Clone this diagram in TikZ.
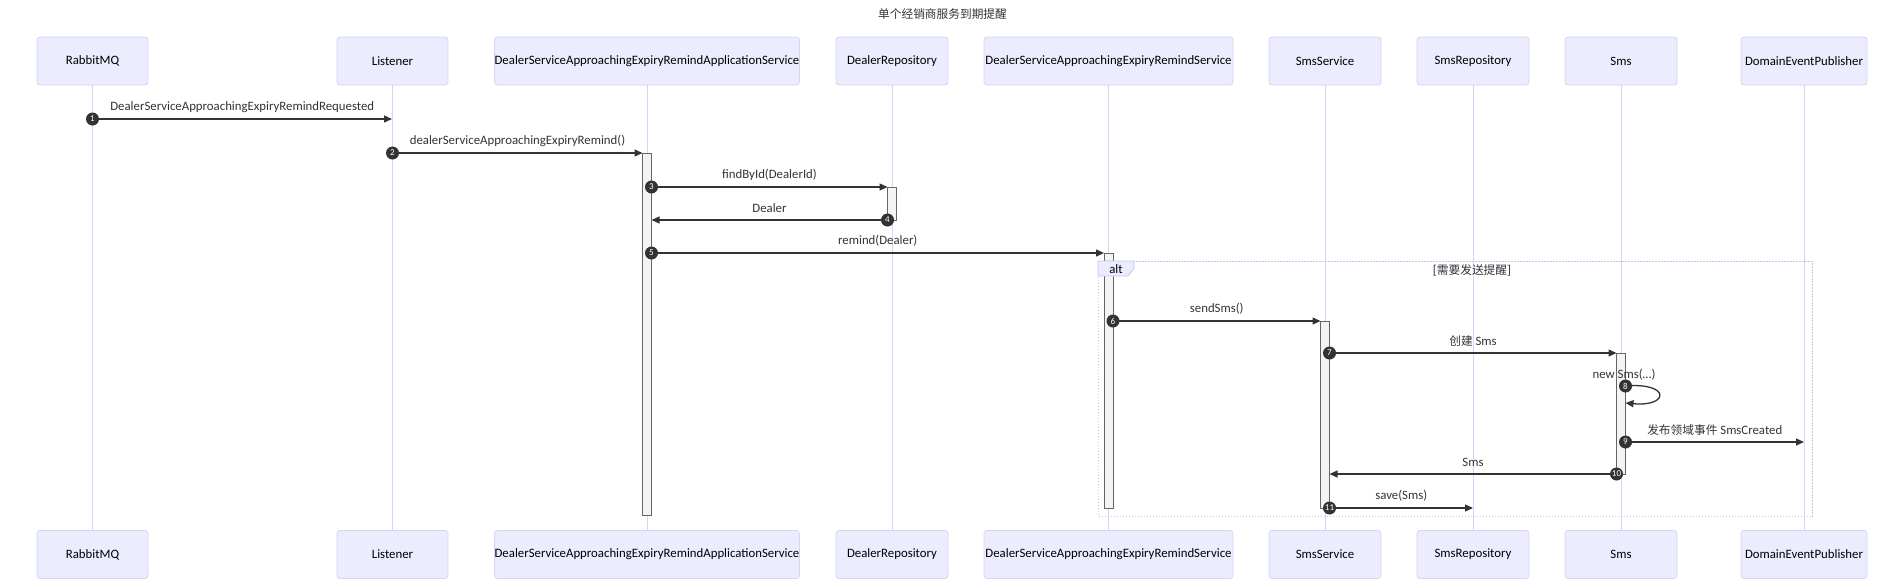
\documentclass[tikz,border=0pt]{standalone}
\usepackage{fontspec}
\setmainfont{Carlito}
\newfontfamily\cjk{Noto Sans CJK SC}
\usetikzlibrary{arrows.meta}
\definecolor{actorfill}{HTML}{ECECFF}
\definecolor{actorborder}{HTML}{D9D2F5}
\definecolor{lifecolor}{HTML}{D9D2F5}
\definecolor{actfill}{HTML}{F4F4F4}
\definecolor{actstroke}{HTML}{666666}
\definecolor{msgcolor}{HTML}{333333}
\definecolor{altborder}{HTML}{C8C2F0}
\newcommand\myActorFont{\fontsize{12.8}{15}\selectfont}
\newcommand\myMsgFont{\fontsize{12.8}{15}\selectfont}
\newcommand\myNumFont{\fontsize{9}{10}\selectfont}
\newcommand\myCjk[1]{{\cjk\fontsize{11.7}{14}\selectfont #1}}
\begin{document}
\begin{tikzpicture}[x=1pt,y=-1pt,
  actor/.style={draw=actorborder, fill=actorfill, rounded corners=3pt, minimum height=48pt, inner sep=0pt, font=\myActorFont, text=black, line width=0.8pt},
  life/.style={draw=lifecolor, line width=1pt},
  actbar/.style={draw=actstroke, fill=actfill, line width=0.8pt, inner sep=0pt, minimum width=9pt, anchor=north},
  msg/.style={draw=msgcolor, line width=1.3pt, -{Triangle[length=8pt,width=7pt]}},
  num/.style={circle, fill=msgcolor, text=white, inner sep=0pt, minimum size=13pt, font=\myNumFont},
  lbl/.style={font=\myMsgFont, text=msgcolor, inner sep=0pt},
  altbox/.style={draw=altborder, dash pattern=on 1.5pt off 1.5pt, line width=1pt, inner sep=0pt, anchor=north west},
  alttab/.style={draw=altborder, fill=actorfill, line width=0.8pt}
]
\useasboundingbox (0,0) rectangle (1904,587);

% title
\node[inner sep=0pt, text=msgcolor] (title) at (942.5,14) {\myCjk{单个经销商服务到期提醒}};

% actors top
\node[actor, minimum width=111pt] (rabT) at (92.5,61) {RabbitMQ};
\node[actor, minimum width=111pt] (lisT) at (392.5,61) {Listener};
\node[actor, minimum width=305pt] (appT) at (647,61) {DealerServiceApproachingExpiryRemindApplicationService};
\node[actor, minimum width=112pt] (repT) at (892,61) {DealerRepository};
\node[actor, minimum width=249pt] (dsT) at (1108.5,61) {DealerServiceApproachingExpiryRemindService};
\node[actor, minimum width=112pt] (ssT) at (1325,61) {SmsService};
\node[actor, minimum width=112pt] (srT) at (1473,61) {SmsRepository};
\node[actor, minimum width=112pt] (smsT) at (1621,61) {Sms};
\node[actor, minimum width=126pt] (depT) at (1804,61) {DomainEventPublisher};
% actors bottom
\node[actor, minimum width=111pt] (rabB) at (92.5,554.5) {RabbitMQ};
\node[actor, minimum width=111pt] (lisB) at (392.5,554.5) {Listener};
\node[actor, minimum width=305pt] (appB) at (647,554.5) {DealerServiceApproachingExpiryRemindApplicationService};
\node[actor, minimum width=112pt] (repB) at (892,554.5) {DealerRepository};
\node[actor, minimum width=249pt] (dsB) at (1108.5,554.5) {DealerServiceApproachingExpiryRemindService};
\node[actor, minimum width=112pt] (ssB) at (1325,554.5) {SmsService};
\node[actor, minimum width=112pt] (srB) at (1473,554.5) {SmsRepository};
\node[actor, minimum width=112pt] (smsB) at (1621,554.5) {Sms};
\node[actor, minimum width=126pt] (depB) at (1804,554.5) {DomainEventPublisher};

% lifelines
\draw[life] (rabT.south) -- (rabB.north);
\draw[life] (lisT.south) -- (lisB.north);
\draw[life] (appT.south) -- (appB.north);
\draw[life] (repT.south) -- (repB.north);
\draw[life] (dsT.south) -- (dsB.north);
\draw[life] (ssT.south) -- (ssB.north);
\draw[life] (srT.south) -- (srB.north);
\draw[life] (smsT.south) -- (smsB.north);
\draw[life] (depT.south) -- (depB.north);

% alt frame
\node[altbox, minimum width=714pt, minimum height=255pt] (alt) at (1098,261) {};

% activation bars
\node[actbar, minimum height=362pt] (barApp) at (647,153) {};
\node[actbar, minimum height=33pt] (barRep) at (892,187) {};
\node[actbar, minimum height=255pt] (barDs) at (1108.5,253) {};
\node[actbar, minimum height=187pt] (barSs) at (1325,321) {};
\node[actbar, minimum height=121pt] (barSms) at (1621,353) {};

% alt tab and condition
\draw[alttab] (alt.north west) -- ++(36,0) -- ++(0,7.5) -- ++(-6,7.5) -- ++(-30,0) -- cycle;
\node[lbl, text=black] (altlbl) at (1116,269) {alt};
\node[lbl] (cond) at (1472,270.5) {[\myCjk{需要发送提醒}]};

% message end points
\coordinate (m1a) at (92.5,119);   \coordinate (m1b) at (392,119);
\coordinate (m2a) at (392.5,153);  \coordinate (m2b) at (642.5,153);
\coordinate (m3a) at (651.5,187);  \coordinate (m3b) at (887.5,187);
\coordinate (m4a) at (887.5,220);  \coordinate (m4b) at (651.5,220);
\coordinate (m5a) at (651.5,253);  \coordinate (m5b) at (1104,253);
\coordinate (m6a) at (1113,321);   \coordinate (m6b) at (1320.5,321);
\coordinate (m7a) at (1329.5,353); \coordinate (m7b) at (1616.5,353);
\coordinate (m8a) at (1625.5,386); \coordinate (m8b) at (1625.5,403);
\coordinate (m9a) at (1625.5,442); \coordinate (m9b) at (1804,442);
\coordinate (m10a) at (1616.5,474); \coordinate (m10b) at (1329.5,474);
\coordinate (m11a) at (1329.5,508); \coordinate (m11b) at (1473,508);

% messages
\draw[msg] (m1a) -- (m1b) node[midway, lbl, yshift=12pt] {DealerServiceApproachingExpiryRemindRequested};
\draw[msg] (m2a) -- (m2b) node[midway, lbl, yshift=12pt] {dealerServiceApproachingExpiryRemind()};
\draw[msg] (m3a) -- (m3b) node[midway, lbl, yshift=12pt] {findById(DealerId)};
\draw[msg] (m4a) -- (m4b) node[midway, lbl, yshift=12pt] {Dealer};
\draw[msg] (m5a) -- (m5b) node[midway, lbl, yshift=12pt] {remind(Dealer)};
\draw[msg] (m6a) -- (m6b) node[midway, lbl, yshift=12pt] {sendSms()};
\draw[msg] (m7a) -- (m7b) node[midway, lbl, yshift=12pt] {\myCjk{创建} Sms};
\draw[msg] (m8a) .. controls (1670,382) and (1670,407) .. (m8b);
\node[lbl] (m8lbl) at (1624,375) {new Sms(…)};
\draw[msg] (m9a) -- (m9b) node[midway, lbl, yshift=12pt] {\myCjk{发布领域事件} SmsCreated};
\draw[msg] (m10a) -- (m10b) node[midway, lbl, yshift=12pt] {Sms};
\draw[msg] (m11a) -- (m11b) node[midway, lbl, yshift=12pt] {save(Sms)};

% sequence numbers
\node[num] (n1) at (m1a) {1};
\node[num] (n2) at (m2a) {2};
\node[num] (n3) at (m3a) {3};
\node[num] (n4) at (m4a) {4};
\node[num] (n5) at (m5a) {5};
\node[num] (n6) at (m6a) {6};
\node[num] (n7) at (m7a) {7};
\node[num] (n8) at (m8a) {8};
\node[num] (n9) at (m9a) {9};
\node[num] (n10) at (m10a) {10};
\node[num] (n11) at (m11a) {11};
\end{tikzpicture}
\end{document}
